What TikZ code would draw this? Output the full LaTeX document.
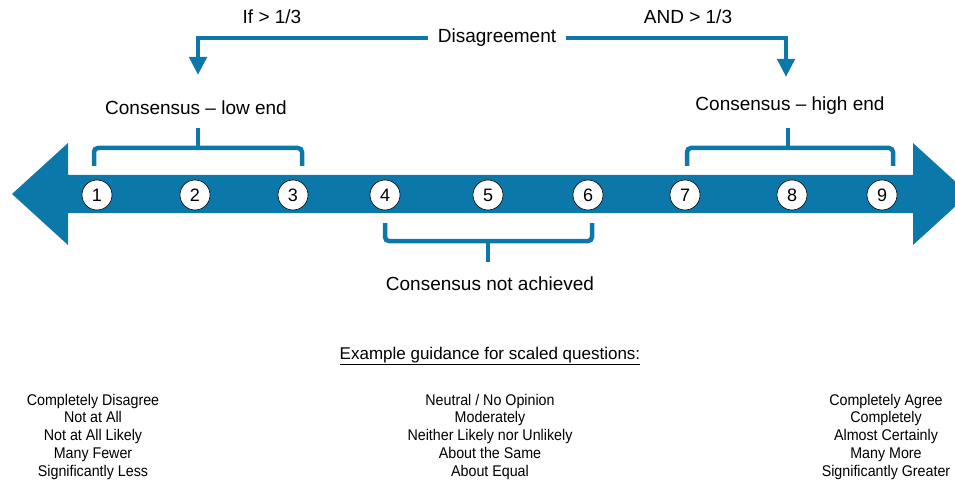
\documentclass[tikz,border=0pt]{standalone}
\usepackage{fontspec}
\setmainfont{Liberation Sans}
\newfontfamily\guidefont[FakeStretch=0.92]{Liberation Sans}
\usetikzlibrary{arrows.meta}
\definecolor{scaleblue}{RGB}{12,120,170}

\begin{document}
\begin{tikzpicture}[x=1pt,y=-1pt,
  lbl/.style={inner sep=0pt,font=\fontsize{19}{22}\selectfont},
  num/.style={circle,draw=black,line width=0.6pt,fill=white,minimum size=30pt,inner sep=0pt,font=\fontsize{18}{20}\selectfont},
  brace/.style={draw=scaleblue,line width=4.5pt,rounded corners=4pt},
  flow/.style={draw=scaleblue,line width=4.5pt,-{Triangle[width=17pt,length=18pt]}},
  guide/.style={inner sep=0pt,align=center,font=\guidefont\fontsize{15.5}{17.75}\selectfont}]
  \useasboundingbox (0,0) rectangle (955,481);
  \clip (0,0) rectangle (955,481);
  % scale bar
  \fill[scaleblue] (12,194) -- (68,143) -- (68,175) -- (913,175) -- (913,143) -- (969,194)
    -- (913,245) -- (913,213) -- (68,213) -- (68,245) -- cycle;
  \foreach \n/\x in {1/97,2/195,3/293,4/385,5/488,6/588,7/685,8/792,9/882}
    \node[num] (n\n) at (\x,195) {\n};
  % disagreement
  \node[lbl] (dis) at (497,38) {Disagreement};
  \node[lbl] (iflow) at (272,17) {If > 1/3};
  \node[lbl] (andhigh) at (688,17) {AND > 1/3};
  \coordinate (lowtip) at (198,75);
  \coordinate (hightip) at (786,77);
  \draw[flow] ([xshift=-10pt]dis.west) -| (lowtip);
  \draw[flow] ([xshift=10pt]dis.east) -| (hightip);
  % consensus brackets
  \node[lbl] (low) at (196,108) {Consensus -- low end};
  \node[lbl] (high) at (790,106) {Consensus -- high end};
  \node[lbl] (none) at (490,284) {Consensus not achieved};
  \draw[brace] (94,166) |- (302,148) -- (302,166);
  \draw[brace] (198,148) -- (198,128);
  \draw[brace] (687,166) |- (893,148) -- (893,166);
  \draw[brace] (788,148) -- (788,128);
  \draw[brace] (385,223) |- (592,241) -- (592,223);
  \draw[brace] (488,241) -- (488,262);
  % guidance
  \node[inner sep=0pt,font=\fontsize{17}{20}\selectfont] (head) at (490,356) {\underline{Example guidance for scaled questions:}};
  \node[guide] (lowg) at (93,436.5) {Completely Disagree\\Not at All\\Not at All Likely\\Many Fewer\\Significantly Less};
  \node[guide] (midg) at (490,436.5) {Neutral / No Opinion\\Moderately\\Neither Likely nor Unlikely\\About the Same\\About Equal};
  \node[guide] (highg) at (886,436.5) {Completely Agree\\Completely\\Almost Certainly\\Many More\\Significantly Greater};
\end{tikzpicture}
\end{document}
